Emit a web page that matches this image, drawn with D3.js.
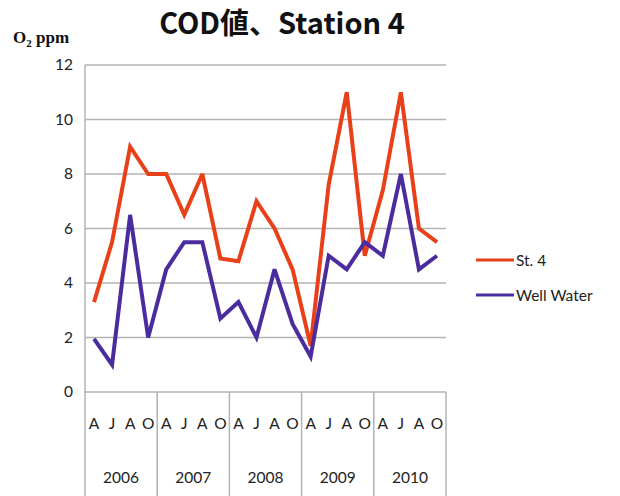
<!DOCTYPE html>
<html>
<head>
<meta charset="utf-8">
<script src="https://cdn.jsdelivr.net/npm/d3@7"></script>
<style>
  html, body { margin: 0; padding: 0; background: #fff; }
  svg { display: block; }
</style>
</head>
<body>
<svg id="chart" width="620" height="496"></svg>
<script>
// Quarterly sampling months and years
const years = ["2006", "2007", "2008", "2009", "2010"];
const months = ["A", "J", "A", "O"];
// COD values (O2 ppm)
const station4 = [3.3, 5.5, 9.0, 8.0, 8.0, 6.5, 8.0, 4.9, 4.8, 7.0, 6.0, 4.5, 1.7, 7.6, 11.0, 5.0, 7.4, 11.0, 6.0, 5.5];
const wellWater = [1.95, 1.0, 6.5, 2.0, 4.5, 5.5, 5.5, 2.7, 3.3, 2.0, 4.5, 2.5, 1.3, 5.0, 4.5, 5.5, 5.0, 8.0, 4.5, 5.0];
const yTicks = [0, 2, 4, 6, 8, 10, 12];
const seriesNames = ["St. 4", "Well Water"];
const seriesColors = ["#e8411a", "#4b2c9f"];

const svg = d3.select("#chart");
const plotLeft = 85, plotRight = 446, plotTop = 65, plotBottom = 392;

const categories = [];
years.forEach(y => months.forEach((m, i) => categories.push(y + "-" + i)));

const x = d3.scaleBand().domain(categories).range([plotLeft, plotRight]);
const xYear = d3.scaleBand().domain(years).range([plotLeft, plotRight]);
const y = d3.scaleLinear().domain([0, 12]).range([plotBottom, plotTop]);

const gridColor = "#b3b3b3";
const labelFont = "Lato, 'Open Sans', sans-serif";

// Horizontal gridlines
svg.append("g").selectAll("line").data(yTicks).join("line")
  .attr("x1", plotLeft).attr("x2", plotRight)
  .attr("y1", d => y(d)).attr("y2", d => y(d))
  .attr("stroke", gridColor).attr("stroke-width", 1.5);

// Vertical axis line
svg.append("line").attr("x1", plotLeft).attr("x2", plotLeft)
  .attr("y1", plotTop).attr("y2", plotBottom)
  .attr("stroke", gridColor).attr("stroke-width", 1.5);

// Year separators below the axis
const seps = years.map(yr => xYear(yr)).concat([plotRight]);
svg.append("g").selectAll("line").data(seps).join("line")
  .attr("x1", d => d).attr("x2", d => d)
  .attr("y1", plotBottom).attr("y2", 496)
  .attr("stroke", gridColor).attr("stroke-width", 1.5);

// Y tick labels
svg.append("g").selectAll("text").data(yTicks).join("text")
  .attr("x", 73).attr("y", d => y(d) + 5)
  .attr("text-anchor", "end")
  .attr("font-family", labelFont).attr("font-size", 15.5).attr("fill", "#222")
  .text(d => d);

// Month labels
svg.append("g").selectAll("text").data(categories).join("text")
  .attr("x", d => x(d) + x.bandwidth() / 2).attr("y", 429)
  .attr("text-anchor", "middle")
  .attr("font-family", labelFont).attr("font-size", 15.5).attr("fill", "#222")
  .text(d => months[+d.split("-")[1]]);

// Year labels
svg.append("g").selectAll("text").data(years).join("text")
  .attr("x", d => xYear(d) + xYear.bandwidth() / 2).attr("y", 483)
  .attr("text-anchor", "middle")
  .attr("font-family", labelFont).attr("font-size", 15.5).attr("fill", "#222")
  .text(d => d);

// Series lines
const line = d3.line()
  .x((d, i) => x(categories[i]) + x.bandwidth() / 2)
  .y(d => y(d))
  .curve(d3.curveLinear);

[station4, wellWater].forEach((vals, k) => {
  svg.append("path").datum(vals)
    .attr("d", line)
    .attr("fill", "none")
    .attr("stroke", seriesColors[k])
    .attr("stroke-width", 4)
    .attr("stroke-linejoin", "miter")
    .attr("stroke-miterlimit", 3);
});

// Legend
const legend = svg.append("g").selectAll("g").data(seriesNames).join("g")
  .attr("transform", (d, i) => `translate(476, ${260 + i * 35})`);
legend.append("line").attr("x1", 0).attr("x2", 38).attr("y1", 0).attr("y2", 0)
  .attr("stroke", (d, i) => seriesColors[i]).attr("stroke-width", 3);
legend.append("text").attr("x", 40).attr("y", 6)
  .attr("font-family", labelFont).attr("font-size", 15.5).attr("fill", "#222")
  .text(d => d);

// Title
svg.append("text").attr("x", 282).attr("y", 34)
  .attr("text-anchor", "middle")
  .attr("font-family", "'Noto Sans CJK JP', sans-serif")
  .attr("font-weight", "bold").attr("font-size", 29).attr("fill", "#111")
  .text("COD値、Station 4");

// Unit label
const unit = svg.append("text").attr("x", 13).attr("y", 43)
  .attr("font-family", "'Liberation Serif', serif")
  .attr("font-weight", "bold").attr("font-size", 17).attr("fill", "#111");
unit.append("tspan").text("O");
unit.append("tspan").attr("font-size", 11).attr("dy", 4).text("2");
unit.append("tspan").attr("dy", -4).text(" ppm");
</script>
</body>
</html>
